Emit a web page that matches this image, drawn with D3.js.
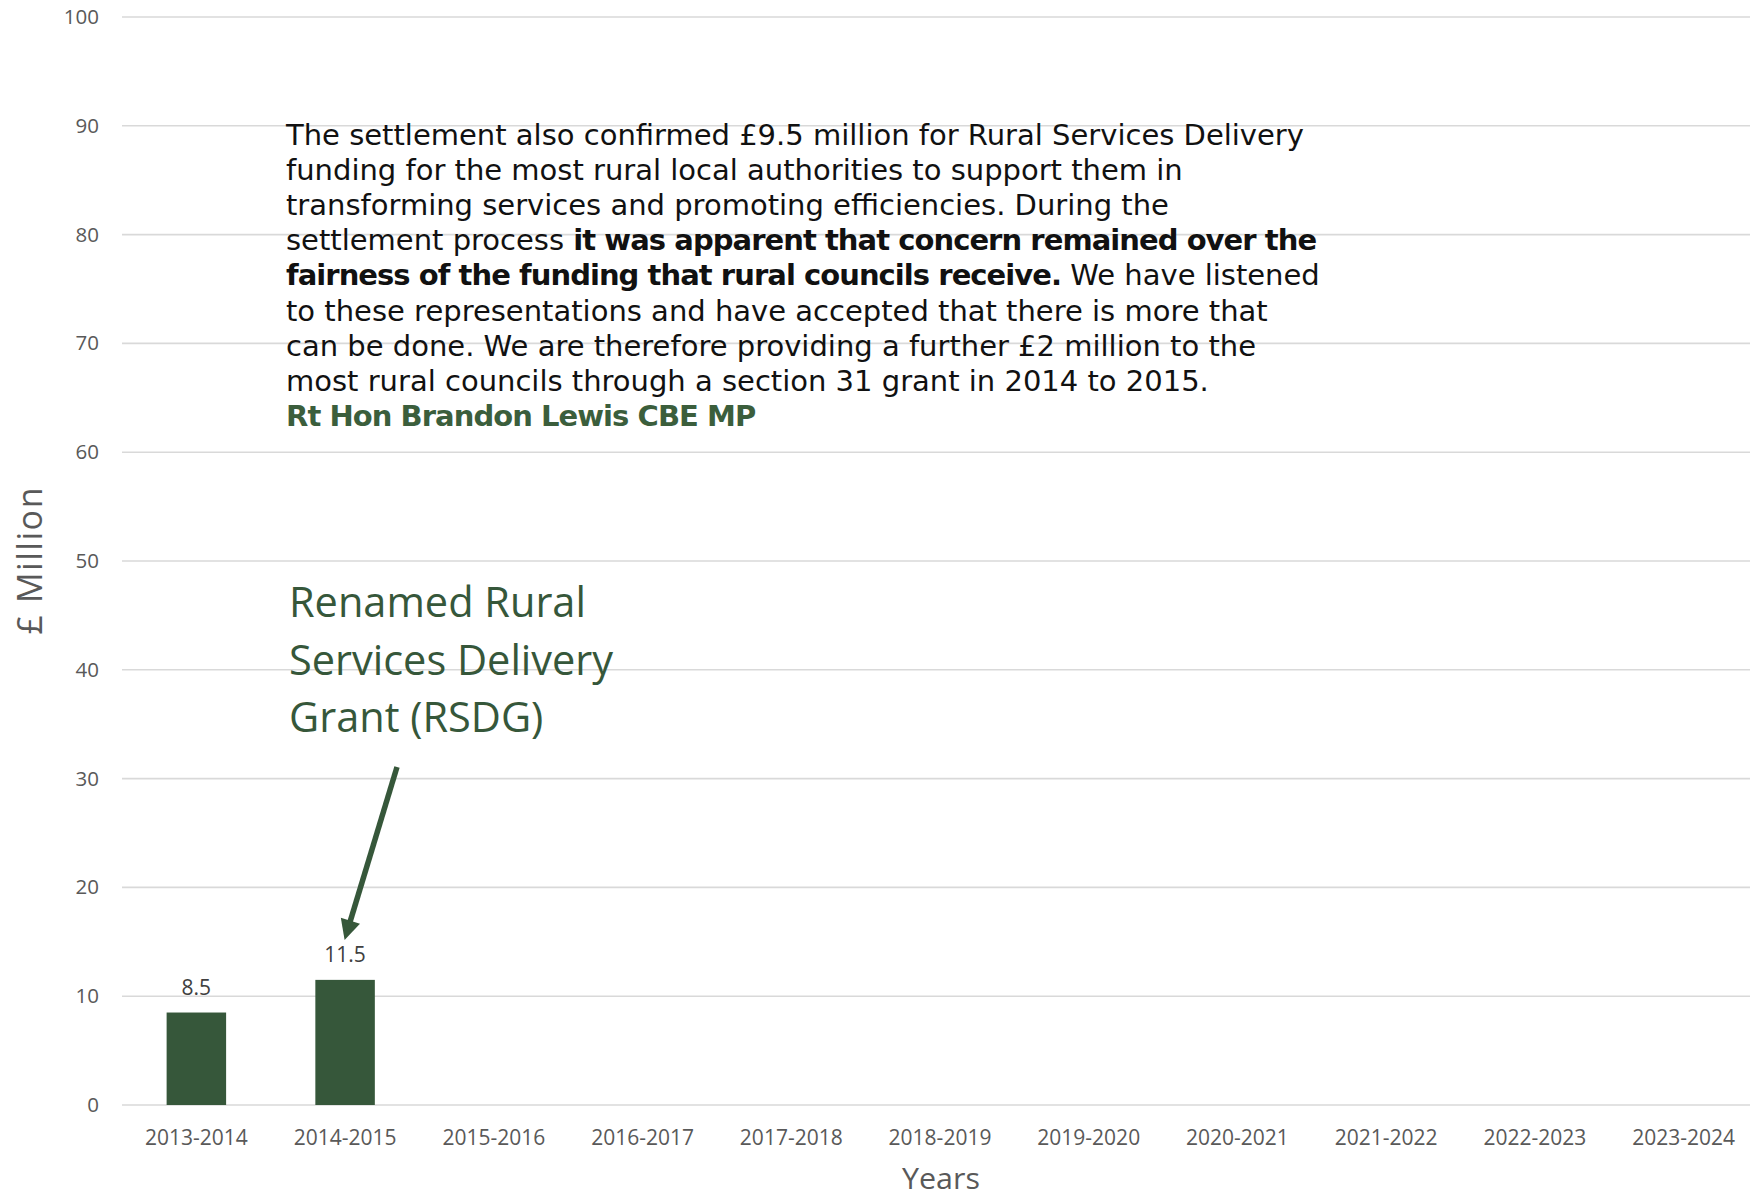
<!DOCTYPE html>
<html>
<head>
<meta charset="utf-8">
<script src="https://cdn.jsdelivr.net/npm/d3@7"></script>
<style>
  html, body { margin: 0; padding: 0; background: #fff; }
  svg { display: block; }
</style>
</head>
<body>
<svg id="chart" width="1750" height="1198"></svg>
<script>
// ---- data ----
const categories = ["2013-2014","2014-2015","2015-2016","2016-2017","2017-2018","2018-2019","2019-2020","2020-2021","2021-2022","2022-2023","2023-2024"];
const values = [8.5, 11.5, null, null, null, null, null, null, null, null, null];
const yTicks = [0,10,20,30,40,50,60,70,80,90,100];
const yTitle = "£ Million";
const xTitle = "Years";
const calloutLines = ["Renamed Rural", "Services Delivery", "Grant (RSDG)"];
const calloutCategory = "2014-2015";
// quote: each line is a list of [text, bold]
const quoteLines = [
  [["The settlement also confirmed £9.5 million for Rural Services Delivery", false]],
  [["funding for the most rural local authorities to support them in", false]],
  [["transforming services and promoting efficiencies. During the", false]],
  [["settlement process ", false], ["it was apparent that concern remained over the", true]],
  [["fairness of the funding that rural councils receive.", true], [" We have listened", false]],
  [["to these representations and have accepted that there is more that", false]],
  [["can be done. We are therefore providing a further £2 million to the", false]],
  [["most rural councils through a section 31 grant in 2014 to 2015.", false]]
];
const quoteAuthor = "Rt Hon Brandon Lewis CBE MP";

(function () {
// ---- layout ----
const svg = d3.select("#chart");
const mLeft = 122, mRight = 1758, mTop = 17, mBottom = 1105;
const green = "#36573a";
const tickColor = "#595959";
const font = "'Open Sans', 'Noto Sans', sans-serif";

const x = d3.scaleBand().domain(categories).range([mLeft, mRight]).paddingInner(0.6).paddingOuter(0.3);
const y = d3.scaleLinear().domain([0, 100]).range([mBottom, mTop]);

// gridlines
svg.append("g").selectAll("line").data(yTicks).join("line")
  .attr("x1", mLeft).attr("x2", 1750)
  .attr("y1", d => y(d)).attr("y2", d => y(d))
  .attr("stroke", "#d9d9d9").attr("stroke-width", 1.6);

// y axis labels
const yAxis = svg.append("g").attr("transform", `translate(${mLeft},0)`)
  .call(d3.axisLeft(y).tickValues(yTicks).tickSize(0).tickPadding(23));
yAxis.select(".domain").remove();
yAxis.selectAll("text").attr("font-family", font).attr("font-size", 20.5).attr("fill", tickColor);

// x axis labels
const xAxis = svg.append("g").attr("transform", `translate(0,${mBottom})`)
  .call(d3.axisBottom(x).tickSize(0).tickPadding(25));
xAxis.select(".domain").remove();
xAxis.selectAll("text").attr("font-family", font).attr("font-size", 21).attr("fill", tickColor);

// bars
const barData = categories.map((c, i) => ({c, v: values[i]})).filter(d => d.v != null);
svg.append("g").selectAll("rect").data(barData).join("rect")
  .attr("x", d => x(d.c)).attr("width", x.bandwidth())
  .attr("y", d => y(d.v)).attr("height", d => y(0) - y(d.v))
  .attr("fill", green);

// data labels
svg.append("g").selectAll("text").data(barData).join("text")
  .attr("x", d => x(d.c) + x.bandwidth() / 2)
  .attr("y", d => y(d.v) - 18)
  .attr("text-anchor", "middle")
  .attr("font-family", font).attr("font-size", 21).attr("fill", "#404040")
  .text(d => d.v);

// axis titles
svg.append("text")
  .attr("x", 941).attr("y", 1189)
  .attr("text-anchor", "middle")
  .attr("font-family", font).attr("font-size", 29).attr("fill", tickColor)
  .attr("textLength", 78).attr("lengthAdjust", "spacingAndGlyphs")
  .text(xTitle);
svg.append("text")
  .attr("transform", "translate(42,561) rotate(-90)")
  .attr("text-anchor", "middle")
  .attr("font-family", font).attr("font-size", 34).attr("fill", tickColor)
  .attr("textLength", 147).attr("lengthAdjust", "spacing")
  .text(yTitle);

// callout text
const callout = svg.append("text")
  .attr("font-family", font).attr("font-size", 41.5).attr("fill", green);
calloutLines.forEach((l, i) => {
  callout.append("tspan").attr("x", 289).attr("y", 617 + i * 57.5).text(l);
});

// arrow
const cx = x(calloutCategory) + x.bandwidth() / 2;
const tip = [cx - 0.5, y(11.5) - 40];
const start = [397, 767];
const dx = tip[0] - start[0], dy = tip[1] - start[1];
const len = Math.hypot(dx, dy), ux = dx / len, uy = dy / len;
const headLen = 20, headW = 10;
const base = [tip[0] - ux * headLen, tip[1] - uy * headLen];
svg.append("line")
  .attr("x1", start[0]).attr("y1", start[1])
  .attr("x2", base[0] + ux * 2).attr("y2", base[1] + uy * 2)
  .attr("stroke", green).attr("stroke-width", 5.5);
svg.append("polygon")
  .attr("points", [tip, [base[0] - uy * headW, base[1] + ux * headW], [base[0] + uy * headW, base[1] - ux * headW]].map(p => p.join(",")).join(" "))
  .attr("fill", green);

// quote
const qFont = "'DejaVu Sans', 'Open Sans', sans-serif";
const qx = 286, qy0 = 145, qlh = 35.1;
const boldSpacing = -0.95;
const qg = svg.append("g");
let qSize = 28;
const lineEls = quoteLines.map((parts, i) => {
  const t = qg.append("text").attr("x", qx).attr("y", qy0 + i * qlh)
    .attr("font-family", qFont).attr("font-size", qSize).attr("fill", "#111");
  parts.forEach(([s, b]) => {
    t.append("tspan").attr("font-weight", b ? 700 : 400)
      .attr("letter-spacing", b ? boldSpacing : 0).text(s);
  });
  return t;
});
// fit font size so the first line spans the quote width
const w0 = lineEls[0].node().getComputedTextLength();
qSize = qSize * 1018 / w0;
lineEls.forEach(t => t.attr("font-size", qSize));
qg.append("text").attr("x", qx).attr("y", qy0 + quoteLines.length * qlh)
  .attr("font-family", qFont).attr("font-size", qSize).attr("font-weight", 700)
  .attr("letter-spacing", boldSpacing)
  .attr("fill", "#3b5e3c")
  .text(quoteAuthor);
})();
</script>
</body>
</html>
